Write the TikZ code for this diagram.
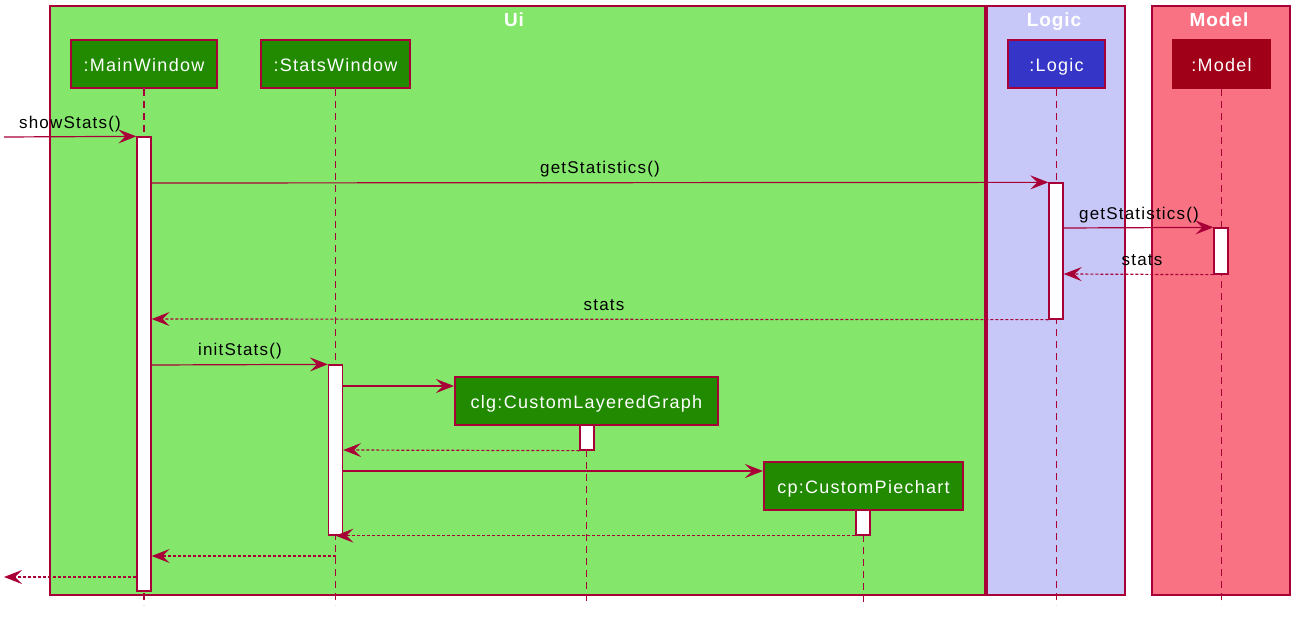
\documentclass[tikz,border=0pt]{standalone}
\usepackage{fontspec}
\setmainfont{Liberation Sans}
\newfontfamily\lblfont[LetterSpace=7]{Liberation Sans}
\newfontfamily\ttlfont[LetterSpace=5]{Liberation Sans}
\usetikzlibrary{arrows.meta}
\definecolor{bd}{HTML}{A80036}
\definecolor{uifill}{HTML}{84E76C}
\definecolor{logicfill}{HTML}{C8C8F8}
\definecolor{modelfill}{HTML}{F87283}
\definecolor{pgreen}{HTML}{218A00}
\definecolor{pblue}{HTML}{3535C8}
\definecolor{pred}{HTML}{A00018}
\tikzset{
  grp/.style={draw=bd, line width=1.3pt},
  grptitle/.style={text=white, anchor=base, font=\ttlfont\bfseries\fontsize{19}{22}\selectfont},
  part/.style={draw=bd, line width=2pt, text=white, minimum height=48pt, inner sep=0pt, text height=16pt, text depth=1pt, font=\lblfont\fontsize{18}{21}\selectfont},
  life/.style={draw=bd, line width=1.1pt, dash pattern=on 7pt off 5pt},
  act/.style={draw=bd, fill=white, line width=1.3pt, minimum width=14pt, inner sep=0pt},
  msg/.style={draw=bd, line width=1.2pt, -{Stealth[length=18pt,width=14pt,inset=7pt]}},
  ret/.style={msg, dash pattern=on 3pt off 2pt},
  lbl/.style={font=\lblfont\fontsize{17}{20}\selectfont, text=black, inner sep=0pt}
}
\begin{document}
\begin{tikzpicture}[x=1pt,y=-1pt]
\useasboundingbox (0,0) rectangle (1305,620);
% groups
\path[grp, fill=uifill] (50,6) rectangle (985,595);
\path[grp, fill=logicfill] (987,6) rectangle (1125,595);
\path[grp, fill=modelfill] (1152,6) rectangle (1290,595);
\node[grptitle] (tui) at (514,27) {Ui};
\node[grptitle] (tlogic) at (1054,27) {Logic};
\node[grptitle] (tmodel) at (1219,27) {Model};
% participants
\node[part, fill=pgreen, minimum width=146pt] (mw) at (144,64) {:MainWindow};
\node[part, fill=pgreen, minimum width=149pt] (sw) at (335.5,64) {:StatsWindow};
\node[part, fill=pblue, minimum width=97pt] (lg) at (1056.5,64) {:Logic};
\node[part, fill=pred, draw=pred, minimum width=97pt] (md) at (1221.5,64) {:Model};
\node[part, fill=pgreen, minimum width=263pt] (clg) at (586.5,401) {clg:CustomLayeredGraph};
\node[part, fill=pgreen, minimum width=199pt] (cp) at (863.5,486) {cp:CustomPiechart};
% lifelines
\draw[life] (mw.south) -- (mw.south |- 0,605);
\draw[life] (sw.south) -- (sw.south |- 0,605);
\draw[life] (lg.south) -- (lg.south |- 0,605);
\draw[life] (md.south) -- (md.south |- 0,605);
\draw[life] (clg.south) -- (clg.south |- 0,605);
\draw[life] (cp.south) -- (cp.south |- 0,605);
% activations
\node[act, minimum height=454pt] (amw) at (144,364) {};
\node[act, minimum height=136pt] (alg) at (1056,251) {};
\node[act, minimum height=46pt] (amd) at (1221,251) {};
\node[act, minimum height=170pt] (asw) at (335.5,450) {};
\node[act, minimum height=25pt] (aclg) at (587,437.5) {};
\node[act, minimum height=25pt] (acp) at (863,522.5) {};
% free ends
\coordinate (inL) at (4,137);
\coordinate (outL) at (4,577);
% messages
\draw[msg] (inL) -- (amw.north west);
\node[lbl] (l1) at (70,124) {showStats()};
\draw[msg] (amw.east |- 0,183) -- (alg.north west);
\node[lbl] (l2) at (600,169) {getStatistics()};
\draw[msg] (alg.east |- 0,228) -- (amd.north west);
\node[lbl] (l3) at (1139,215) {getStatistics()};
\draw[ret] (amd.south west) -- (alg.east |- 0,274);
\node[lbl] (l4) at (1142,260) {stats};
\draw[ret] (alg.south west) -- (amw.east |- 0,319);
\node[lbl] (l5) at (604,305) {stats};
\draw[msg] (amw.east |- 0,365) -- (asw.north west);
\node[lbl] (l6) at (240,351) {initStats()};
\draw[msg] (asw.east |- 0,386) -- (clg.west |- 0,386);
\draw[ret] (aclg.south west) -- (asw.east |- 0,450);
\draw[msg] (asw.east |- 0,471) -- (cp.west |- 0,471);
\draw[ret] (acp.south west) -- (asw.south);
\draw[ret] (sw.south |- 0,556) -- (amw.east |- 0,556);
\draw[ret] (amw.west |- outL) -- (outL);
\end{tikzpicture}
\end{document}
